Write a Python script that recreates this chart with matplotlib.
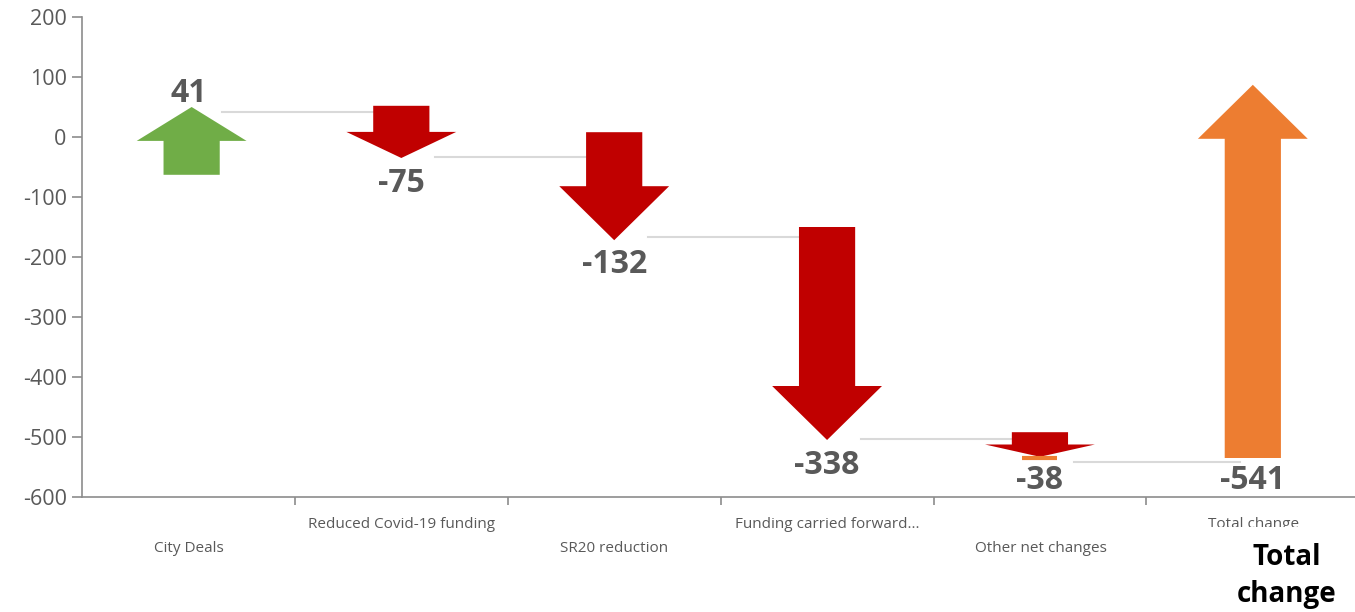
import matplotlib
matplotlib.use("Agg")
import matplotlib.pyplot as plt
from matplotlib.patches import Polygon
from matplotlib.transforms import Bbox
import numpy as np

plt.rcParams['font.family'] = ['Open Sans', 'DejaVu Sans']

# ---- data ----
categories = ["City Deals", "Reduced Covid-19 funding", "SR20 reduction",
              "Funding carried forward...", "Other net changes", "Total change"]
values = [41, -75, -132, -338, -38, -541]
y_ticks = [200, 100, 0, -100, -200, -300, -400, -500, -600]

# ---- styles ----
colors = ["#70ad47", "#c00000", "#c00000", "#c00000", "#c00000", "#ed7d31"]
tail_ext = [63, 11, 42, 16, 12, -6]     # arrow extension behind its start (value units)
tip_ext = [9, 1, 6, 1, -9, 87]          # arrow overshoot beyond its end
label_gap = [22, 43, 40, 43, 40, 38]
label_rows = [1, 0, 1, 0, 1, 0]
gray_txt = "#595959"
axis_col = "#8c8c8c"

fig = plt.figure(figsize=(13.55, 6.12), dpi=100)
ax = fig.add_axes([82 / 1355, 115 / 612, 1 - 82 / 1355, 480 / 612])
ax.set_xlim(-0.5, 5.48)
ax.set_ylim(-600, 200)

n = len(values)
cum = np.cumsum(values[:-1])
starts = [0] + list(cum[:-1]) + [values[-1]]
ends = list(cum) + [0]

shaft_hw = 0.132
head_hw = 0.258
for i in range(n):
    s, e = starts[i], ends[i]
    d = 1 if e > s else -1
    tail = s - d * tail_ext[i]
    tip = e + d * tip_ext[i]
    L = abs(tip - tail)
    hl = min(90, 0.5 * L)
    hb = tip - d * hl
    x = i + (0.015 if i == 0 else 0)
    pts = [(x - shaft_hw, tail), (x + shaft_hw, tail), (x + shaft_hw, hb),
           (x + head_hw, hb), (x, tip), (x - head_hw, hb), (x - shaft_hw, hb)]
    ax.add_patch(Polygon(pts, closed=True, facecolor=colors[i], edgecolor='none', zorder=3))
    if i == n - 1:
        ly = tail - label_gap[i]
    elif d > 0:
        ly = tip + label_gap[i]
    else:
        ly = tip - label_gap[i]
    ax.text(i, ly, f"{values[i]}", ha='center', va='center', fontsize=23,
            fontweight='bold', color=gray_txt, zorder=4)

# connectors
for i in range(n - 1):
    x0 = i + 0.16
    x1 = i + 1 - (0.12 if i < n - 2 else 0.06)
    ax.plot([x0, x1], [cum[i], cum[i]], color="#d9d9d9", lw=1.5, zorder=1)

# small orange base mark
ax.plot([n - 2 - 0.082, n - 2 + 0.082], [values[-1] - tail_ext[-1]] * 2,
        color=colors[-1], lw=3, zorder=4, solid_capstyle='butt')

# axes styling
for sp in ['top', 'right']:
    ax.spines[sp].set_visible(False)
ax.spines['left'].set_color(axis_col)
ax.spines['bottom'].set_color(axis_col)
ax.spines['left'].set_linewidth(1.2)
ax.spines['bottom'].set_linewidth(1.2)
ax.set_yticks(y_ticks)
ax.set_yticklabels([str(v) for v in y_ticks])
ax.tick_params(axis='y', colors=axis_col, labelcolor=gray_txt, labelsize=15.5,
               length=7, width=1.2, pad=4)
ax.set_xticks(np.arange(0.5, n - 0.5, 1))
ax.set_xticklabels([])
ax.tick_params(axis='x', colors=axis_col, length=6, width=1.2, direction='out')

clip = Bbox.from_extents(0, 612 - 527, 1355, 612)  # display coords (pixels from bottom)
for i, c in enumerate(categories):
    yy = 525 if label_rows[i] == 0 else 549
    t = fig.text((82 + 213 * (i + 0.5)) / 1355, 1 - yy / 612, c, ha='center', va='center',
                 fontsize=11, color=gray_txt)
    if i == n - 1:
        t.set_clip_box(clip)
        t.set_clip_on(True)

fig.text(1287 / 1355, 1 - 576 / 612, "Total\nchange", ha='center', va='center',
         fontsize=20, fontweight='bold', color='black', linespacing=1.4)

fig.savefig("out.png", dpi=100)
